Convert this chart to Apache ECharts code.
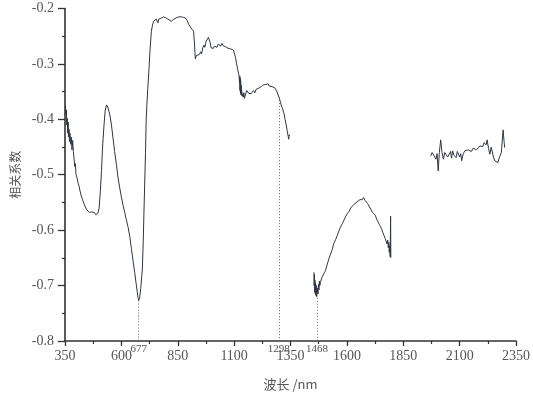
<!DOCTYPE html>
<html><head><meta charset="utf-8">
<script src="https://cdn.jsdelivr.net/npm/echarts@6/dist/echarts.min.js"></script>
<style>html,body{margin:0;padding:0;background:#fff}#c{width:533px;height:396px}</style>
</head><body><div id="c"></div>
<script>
// Segment 1 (visible part)
const seg1Wl = [352,354,356,358,360,362,364,366,368,370,372,375,378,381,384,387,390,393,396,399,403,408,412,416,422,428,434,440,446,452,458,463,468,474,480,486,490,495,501,506,512,516,519,524,528,534,540,545,549,556,563,570,578,585,592,600,608,615,622,630,637,645,652,659,665,670,674,677,681,686,690,693,697,700,703,707,710,713,717,722,727,733,738,743,749,755,759,762,766,770,778,787,797,806,814,821,830,843,855,865,875,884,892,899,905,909,915,920,924,928,932,934,940,946,952,956,961,966,970,976,982,986,990,994,998,1003,1008,1012,1018,1024,1030,1034,1040,1046,1051,1056,1062,1068,1074,1078,1085,1092,1097,1101,1106,1111,1116,1120,1122,1124,1125,1126,1127,1128,1129,1130,1131,1132,1133,1135,1137,1140,1143,1146,1149,1153,1156,1159,1164,1170,1175,1181,1186,1192,1197,1203,1208,1214,1220,1225,1230,1235,1240,1246,1251,1256,1262,1268,1274,1280,1284,1290,1295,1299,1305,1310,1314,1318,1321,1326,1331,1336,1340,1342,1344,1346];
const seg1R = [-0.375,-0.392,-0.383,-0.410,-0.398,-0.425,-0.405,-0.432,-0.418,-0.440,-0.425,-0.445,-0.432,-0.455,-0.438,-0.458,-0.470,-0.485,-0.480,-0.500,-0.505,-0.515,-0.520,-0.528,-0.538,-0.545,-0.552,-0.558,-0.563,-0.562,-0.568,-0.565,-0.567,-0.570,-0.568,-0.572,-0.573,-0.570,-0.561,-0.535,-0.492,-0.455,-0.434,-0.405,-0.385,-0.374,-0.378,-0.386,-0.392,-0.410,-0.434,-0.458,-0.481,-0.505,-0.522,-0.540,-0.556,-0.568,-0.581,-0.595,-0.611,-0.635,-0.656,-0.676,-0.695,-0.710,-0.722,-0.727,-0.722,-0.705,-0.685,-0.670,-0.620,-0.570,-0.522,-0.460,-0.401,-0.375,-0.345,-0.312,-0.275,-0.241,-0.230,-0.223,-0.220,-0.219,-0.222,-0.226,-0.219,-0.216,-0.217,-0.215,-0.217,-0.219,-0.222,-0.223,-0.220,-0.217,-0.215,-0.215,-0.216,-0.217,-0.222,-0.229,-0.232,-0.235,-0.238,-0.241,-0.262,-0.291,-0.285,-0.283,-0.286,-0.283,-0.278,-0.282,-0.271,-0.266,-0.270,-0.259,-0.256,-0.252,-0.250,-0.262,-0.271,-0.268,-0.272,-0.268,-0.266,-0.270,-0.264,-0.265,-0.268,-0.263,-0.267,-0.265,-0.269,-0.267,-0.272,-0.271,-0.273,-0.276,-0.275,-0.277,-0.288,-0.300,-0.310,-0.318,-0.322,-0.335,-0.322,-0.348,-0.325,-0.352,-0.330,-0.355,-0.338,-0.356,-0.345,-0.358,-0.354,-0.360,-0.352,-0.362,-0.360,-0.352,-0.348,-0.349,-0.353,-0.351,-0.354,-0.351,-0.348,-0.352,-0.346,-0.347,-0.344,-0.346,-0.341,-0.342,-0.338,-0.340,-0.337,-0.339,-0.336,-0.340,-0.339,-0.341,-0.340,-0.343,-0.345,-0.350,-0.356,-0.360,-0.368,-0.376,-0.380,-0.385,-0.389,-0.400,-0.410,-0.422,-0.431,-0.436,-0.428,-0.430];
// Segment 2
const seg2Wl = [1454,1455,1456,1457,1458,1460,1461,1463,1464,1466,1468,1470,1472,1474,1476,1478,1480,1483,1487,1491,1495,1500,1505,1512,1520,1527,1535,1542,1550,1557,1564,1572,1580,1587,1594,1602,1610,1617,1623,1630,1638,1645,1652,1658,1663,1668,1674,1680,1686,1692,1697,1703,1708,1714,1720,1726,1732,1738,1744,1750,1755,1760,1765,1770,1774,1778,1781,1784,1786,1788,1790,1792,1794,1795];
const seg2R = [-0.676,-0.700,-0.680,-0.712,-0.690,-0.715,-0.695,-0.718,-0.700,-0.720,-0.722,-0.705,-0.715,-0.698,-0.708,-0.692,-0.700,-0.694,-0.688,-0.684,-0.682,-0.677,-0.673,-0.663,-0.652,-0.644,-0.635,-0.624,-0.617,-0.610,-0.602,-0.594,-0.588,-0.582,-0.576,-0.570,-0.566,-0.560,-0.558,-0.554,-0.552,-0.549,-0.547,-0.545,-0.542,-0.545,-0.541,-0.546,-0.549,-0.552,-0.555,-0.560,-0.562,-0.568,-0.570,-0.573,-0.580,-0.585,-0.590,-0.594,-0.599,-0.605,-0.610,-0.615,-0.612,-0.625,-0.618,-0.632,-0.622,-0.640,-0.628,-0.648,-0.575,-0.650];
// Segment 3
const seg3Wl = [1972,1978,1984,1990,1995,2000,2005,2010,2016,2022,2028,2034,2040,2047,2054,2060,2064,2069,2075,2080,2084,2090,2094,2100,2105,2109,2116,2123,2130,2138,2146,2152,2160,2168,2175,2182,2190,2197,2203,2208,2212,2218,2222,2228,2234,2240,2245,2250,2256,2262,2270,2275,2280,2285,2289,2293,2297,2300];
const seg3R = [-0.466,-0.460,-0.457,-0.468,-0.472,-0.462,-0.493,-0.460,-0.437,-0.460,-0.472,-0.460,-0.457,-0.468,-0.466,-0.458,-0.470,-0.457,-0.465,-0.462,-0.469,-0.458,-0.460,-0.468,-0.462,-0.475,-0.462,-0.457,-0.460,-0.455,-0.454,-0.458,-0.452,-0.451,-0.455,-0.454,-0.448,-0.445,-0.449,-0.442,-0.442,-0.446,-0.437,-0.452,-0.463,-0.450,-0.451,-0.468,-0.475,-0.472,-0.478,-0.470,-0.472,-0.460,-0.439,-0.419,-0.440,-0.451];
// Annotations
const markWl = [677, 1298, 1468];
const markR = [-0.727, -0.360, -0.722];
const xTicks = [350, 600, 850, 1100, 1350, 1600, 1850, 2100, 2350];
const yTicks = [-0.8, -0.7, -0.6, -0.5, -0.4, -0.3, -0.2];

const zip = (a, b) => a.map((v, i) => [v, b[i]]);
const lineColor = '#2f3444';
const font = "'Liberation Serif', 'DejaVu Serif', serif";
const cjk = "'Noto Sans CJK SC'";
const mkSeries = (d, extra) => Object.assign({
  type: 'line', data: d, showSymbol: false, symbol: 'none', silent: true,
  lineStyle: { color: lineColor, width: 1 }, animation: false
}, extra || {});

const markLineData = markWl.map((w, i) => [
  { coord: [w, markR[i]] },
  { coord: [w, yTicks[0]] }
]);
const markPointData = markWl.map(w => ({ coord: [w, yTicks[0]], value: w }));

const chart = echarts.init(document.getElementById('c'));
chart.setOption({
  animation: false,
  grid: { left: 65, right: 15, top: 8.5, bottom: 49.5 },
  xAxis: {
    type: 'value', min: xTicks[0], max: xTicks[xTicks.length - 1], interval: 250,
    name: '波长 /nm', nameLocation: 'middle', nameGap: 37,
    nameTextStyle: { fontFamily: cjk, fontSize: 13, color: '#555' },
    axisLine: { show: true, lineStyle: { color: '#333', width: 1.6 } },
    axisTick: { show: true, inside: false, length: 5, lineStyle: { color: '#333', width: 1.3 } },
    minorTick: { show: true, splitNumber: 2, length: 3, lineStyle: { color: '#333', width: 1.2 } },
    splitLine: { show: false },
    axisLabel: { fontFamily: font, fontSize: 14, color: '#555', margin: 8, formatter: v => String(v) }
  },
  yAxis: {
    type: 'value', min: yTicks[0], max: yTicks[yTicks.length - 1], interval: 0.1,
    name: '相关系数', nameLocation: 'middle', nameGap: 44, nameRotate: 90,
    nameTextStyle: { fontFamily: cjk, fontSize: 12, color: '#555' },
    axisLine: { show: true, onZero: false, lineStyle: { color: '#333', width: 1.6 } },
    axisTick: { show: true, inside: false, length: 7, lineStyle: { color: '#333', width: 1.3 } },
    minorTick: { show: true, splitNumber: 2, length: 3, lineStyle: { color: '#333', width: 1.2 } },
    splitLine: { show: false },
    axisLabel: { fontFamily: font, fontSize: 14, color: '#555', margin: 11,
      formatter: v => v.toFixed(1) }
  },
  series: [
    mkSeries(zip(seg1Wl, seg1R), {
      markLine: {
        silent: true, symbol: 'none', animation: false,
        lineStyle: { color: '#666', type: [1, 2], width: 1 },
        label: { show: false },
        data: markLineData
      },
      markPoint: {
        silent: true, symbol: 'circle', symbolSize: 1, animation: false,
        itemStyle: { color: 'rgba(0,0,0,0)' },
        label: { show: true, position: 'inside', offset: [0, 8], fontFamily: font, fontSize: 11, color: '#555',
          formatter: p => String(p.value) },
        data: markPointData
      }
    }),
    mkSeries(zip(seg2Wl, seg2R)),
    mkSeries(zip(seg3Wl, seg3R))
  ]
});
</script></body></html>
